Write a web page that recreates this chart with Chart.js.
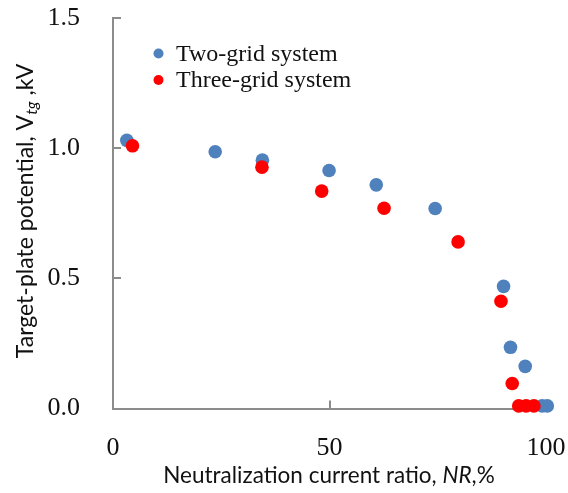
<!DOCTYPE html>
<html>
<head>
<meta charset="utf-8">
<script src="https://cdn.jsdelivr.net/npm/chart.js@4/dist/chart.umd.min.js"></script>
<style>
  html, body { margin: 0; padding: 0; background: #fff; }
  #wrap { width: 568px; height: 493px; }
</style>
</head>
<body>
<div id="wrap"><canvas id="c" width="568" height="493"></canvas></div>
<script>
// Target-plate potential versus neutralization current ratio
const seriesNames = ['Two-grid system', 'Three-grid system'];

const twoGridNR = [3.2, 23.6, 34.5, 49.9, 60.8, 74.4, 90.2, 91.8, 95.2, 99.1, 100.3];
const twoGridV  = [1.03, 0.986, 0.954, 0.914, 0.859, 0.768, 0.469, 0.235, 0.162, 0.01, 0.01];

const threeGridNR = [4.5, 34.4, 48.2, 62.6, 79.7, 89.6, 92.2, 93.7, 95.4, 97.2];
const threeGridV  = [1.009, 0.927, 0.835, 0.769, 0.640, 0.412, 0.096, 0.01, 0.01, 0.01];

const xTicks = [0, 50, 100];
const yTicks = [0.0, 0.5, 1.0, 1.5];

const AXIS_GREY = '#8c8c8c';
const TEXT = '#111';
const SERIF = '"Liberation Serif", "Times New Roman", serif';
const SANS = 'Lato, "Open Sans", sans-serif';

const toPoints = (xs, ys) => xs.map((x, i) => ({ x: x, y: ys[i] }));

// Short tick marks pointing into the plot area
const innerTicks = {
  id: 'innerTicks',
  beforeDatasetsDraw(chart) {
    const { ctx, chartArea: a, scales: { x, y } } = chart;
    ctx.save();
    ctx.strokeStyle = AXIS_GREY;
    ctx.lineWidth = 2;
    ctx.beginPath();
    yTicks.forEach(v => {
      if (v === 0) return;
      const py = Math.round(y.getPixelForValue(v));
      ctx.moveTo(a.left, py);
      ctx.lineTo(a.left + 8, py);
    });
    xTicks.forEach(v => {
      if (v === 0) return;
      const px = Math.round(x.getPixelForValue(v));
      ctx.moveTo(px, a.bottom);
      ctx.lineTo(px, a.bottom - 8);
    });
    ctx.stroke();
    ctx.restore();
  }
};

// Axis titles with italic symbol and subscript
const axisTitles = {
  id: 'axisTitles',
  afterDraw(chart) {
    const { ctx } = chart;
    ctx.save();
    ctx.fillStyle = TEXT;
    ctx.textBaseline = 'alphabetic';

    // x title
    const xParts = [
      { t: 'Neutralization current ratio, ', f: '22.5px ' + SANS },
      { t: 'NR', f: 'italic 22.5px ' + SANS },
      { t: ',%', f: '22.5px ' + SANS }
    ];
    let w = 0;
    xParts.forEach(p => { ctx.font = p.f; p.w = ctx.measureText(p.t).width; w += p.w; });
    let cx = 329 - w / 2;
    xParts.forEach(p => { ctx.font = p.f; ctx.fillText(p.t, cx, 483); cx += p.w; });

    // y title (rotated)
    ctx.translate(33, 211);
    ctx.rotate(-Math.PI / 2);
    const yParts = [
      { t: 'Target-plate potential, V', f: '23px ' + SANS, dy: 0 },
      { t: 'tg', f: 'italic 16px ' + SANS, dy: 4 },
      { t: ' ,kV', f: '23px ' + SANS, dy: 0 }
    ];
    w = 0;
    yParts.forEach(p => { ctx.font = p.f; p.w = ctx.measureText(p.t).width; w += p.w; });
    cx = -w / 2;
    yParts.forEach(p => { ctx.font = p.f; ctx.fillText(p.t, cx, p.dy); cx += p.w; });
    ctx.restore();
  }
};

// Legend inside the plot, upper left
const innerLegend = {
  id: 'innerLegend',
  afterDraw(chart) {
    const { ctx } = chart;
    ctx.save();
    const rows = [53.5, 80];
    chart.data.datasets.forEach((ds, i) => {
      ctx.beginPath();
      ctx.fillStyle = ds.backgroundColor;
      ctx.arc(158.5, rows[i], 5, 0, Math.PI * 2);
      ctx.fill();
      ctx.fillStyle = TEXT;
      ctx.font = '24px ' + SERIF;
      ctx.textBaseline = 'middle';
      ctx.fillText(ds.label, 176, rows[i] + 1);
    });
    ctx.restore();
  }
};

new Chart(document.getElementById('c'), {
  type: 'scatter',
  data: {
    datasets: [
      {
        label: seriesNames[0],
        data: toPoints(twoGridNR, twoGridV),
        backgroundColor: '#4f81bd',
        borderColor: '#4f81bd',
        borderWidth: 0,
        pointRadius: 6.8,
        order: 1,
        clip: false
      },
      {
        label: seriesNames[1],
        data: toPoints(threeGridNR, threeGridV),
        backgroundColor: '#ff0000',
        borderColor: '#ff0000',
        borderWidth: 0,
        pointRadius: 6.8,
        order: 0,
        clip: false
      }
    ]
  },
  options: {
    responsive: false,
    animation: false,
    devicePixelRatio: 1,
    layout: { padding: { top: 18, right: 22, left: 0, bottom: 0 } },
    plugins: {
      legend: { display: false },
      tooltip: { enabled: false }
    },
    scales: {
      x: {
        type: 'linear',
        min: 0,
        max: 100,
        afterBuildTicks: s => { s.ticks = xTicks.map(v => ({ value: v })); },
        afterFit: s => { s.height = 84.5; },
        ticks: {
          color: TEXT,
          padding: 2,
          font: { family: SERIF, size: 26 },
          callback: v => String(v)
        },
        grid: { display: true, drawOnChartArea: false, drawTicks: true, tickLength: 22, tickColor: 'rgba(0,0,0,0)', color: 'rgba(0,0,0,0)' },
        border: { display: true, color: AXIS_GREY, width: 2 }
      },
      y: {
        type: 'linear',
        min: 0,
        max: 1.5,
        afterBuildTicks: s => { s.ticks = yTicks.map(v => ({ value: v })); },
        afterFit: s => { s.width = 113; },
        ticks: {
          color: TEXT,
          padding: 2,
          font: { family: SERIF, size: 26 },
          callback: v => Number(v).toFixed(1)
        },
        grid: { display: true, drawOnChartArea: false, drawTicks: true, tickLength: 31, tickColor: 'rgba(0,0,0,0)', color: 'rgba(0,0,0,0)' },
        border: { display: true, color: AXIS_GREY, width: 2 }
      }
    }
  },
  plugins: [innerTicks, axisTitles, innerLegend]
});
</script>
</body>
</html>
